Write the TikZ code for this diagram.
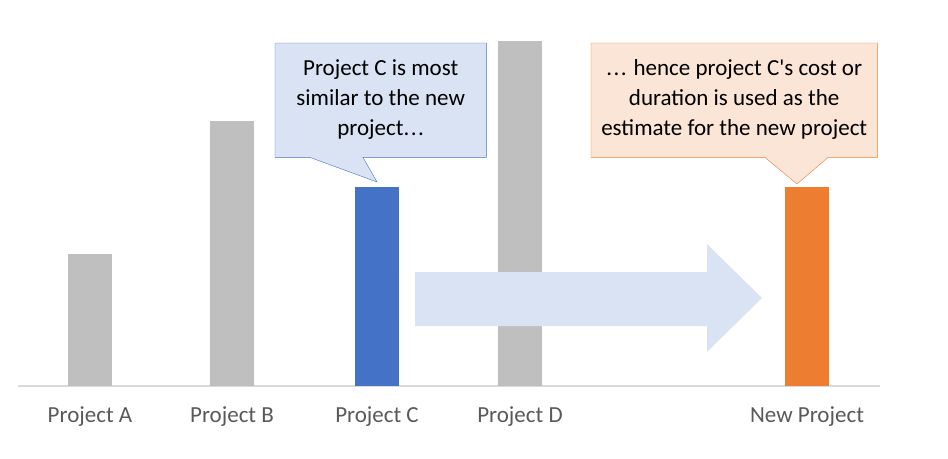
\documentclass[tikz,border=0pt]{standalone}
\usepackage{fontspec}
\setmainfont{Carlito}
\usetikzlibrary{positioning,calc}
\definecolor{bargray}{HTML}{BFBFBF}
\definecolor{barblue}{HTML}{4472C4}
\definecolor{barorange}{HTML}{ED7D31}
\definecolor{noteblue}{HTML}{DAE3F3}
\definecolor{noteorange}{HTML}{FBE5D6}
\definecolor{arrowblue}{HTML}{DAE3F3}
\definecolor{axisgray}{HTML}{D9D9D9}
\definecolor{labelgray}{HTML}{595959}
\newcommand{\threedots}{.\kern1.5pt.\kern1.5pt.}
\tikzset{
  bar/.style={
    anchor=south,
    inner sep=0,
    outer sep=0,
    minimum width=44
  },
  barlabel/.style={
    inner sep=0,
    text=labelgray,
    font=\fontsize{23}{27}\selectfont
  },
  notebox/.style={
    inner sep=0,
    minimum height=114
  },
  notetext/.style={
    align=center,
    inner sep=0,
    font=\fontsize{23}{30}\selectfont
  }
}
\begin{document}
\begin{tikzpicture}[x=1pt,y=-1pt]
        \useasboundingbox (0,0) rectangle (948,458);
        \draw[axisgray, line width=1.5] (18,386) -- (880,386);
        \foreach \name/\x/\top/\col/\txt in {A/90/254/bargray/Project A,
                B/232/121/bargray/Project B,
                C/377/187/barblue/Project C,
                D/520/41/bargray/Project D,
                N/807/187/barorange/New Project}{
                \node[bar, fill=\col, minimum height={386-\top}] (p\name) at (\x,386) {};
                \node[barlabel, below=20pt of p\name] (l\name) {\txt};
            }
        % moving arrow
        \fill[arrowblue] (415,272) -- (707,272) -- (707,244) -- (762,298)
                -- (707,352) -- (707,326) -- (415,326) -- cycle;
        % callouts
        \node[notebox, minimum width=211, anchor=north west] (boxC) at (275,43) {};
        \draw[barblue, fill=noteblue] (boxC.north west) -- (boxC.north east)
                -- (boxC.south east) -- ($(boxC.south west)+(88,0)$)
                -- ($(pC.north)+(0,-5)$) -- ($(boxC.south west)+(35,0)$)
                -- (boxC.south west) -- cycle;
        \node[notetext] (noteC) at ($(boxC.center)+(0,-1)$) {Project C is most\\similar to the new\\project\threedots};
        \node[notebox, minimum width=286, anchor=north west] (boxN) at (591,43) {};
        \draw[barorange, fill=noteorange] (boxN.north west) -- (boxN.north east)
                -- (boxN.south east) -- ($(boxN.south west)+(237,0)$)
                -- ($(pN.north)+(-10,-3)$) -- ($(boxN.south west)+(174,0)$)
                -- (boxN.south west) -- cycle;
        \node[notetext] (noteN) at ($(boxN.center)+(0,-1)$) {\threedots{} hence project C\textquotesingle s cost or\\duration is used as the\\estimate for the new project};
    \end{tikzpicture}
\end{document}
